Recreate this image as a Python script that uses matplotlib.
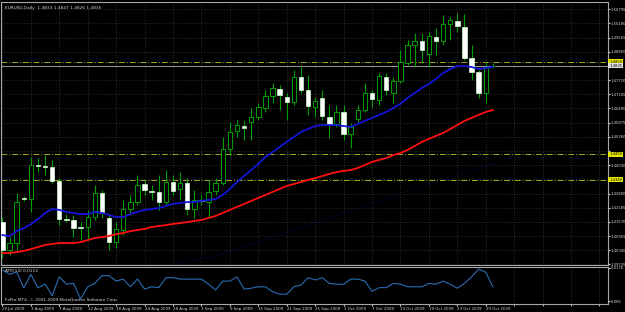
import numpy as np
import matplotlib
matplotlib.use("Agg")
import matplotlib.pyplot as plt

# ============================================================
# EURUSD Daily (MT4) - podatki odčitani s slike
# ============================================================

opens = [1.4156, 1.4035, 1.4065, 1.4261, 1.4256, 1.4404, 1.4400, 1.4396, 1.4334, 1.4170,
         1.4165, 1.4135, 1.4135, 1.4178, 1.4282, 1.4174, 1.4069, 1.4122, 1.4213, 1.4243,
         1.4321, 1.4291, 1.4287, 1.4243, 1.4330, 1.4300, 1.4326, 1.4213, 1.4252, 1.4243,
         1.4291, 1.4326, 1.4473, 1.4551, 1.4573, 1.4590, 1.4612, 1.4651, 1.4703, 1.4734,
         1.4699, 1.4677, 1.4786, 1.4729, 1.4656, 1.4695, 1.4612, 1.4582, 1.4634, 1.4538,
         1.4603, 1.4642, 1.4716, 1.4686, 1.4786, 1.4716, 1.4768, 1.4846, 1.4925, 1.4942,
         1.4886, 1.4959, 1.4942, 1.5016, 1.5029, 1.5003, 1.4868, 1.4807, 1.4716, 1.4833]
highs = [1.4178, 1.4091, 1.4282, 1.4269, 1.4439, 1.4434, 1.4447, 1.4426, 1.4347, 1.4191,
         1.4187, 1.4156, 1.4209, 1.4317, 1.4295, 1.4191, 1.4156, 1.4252, 1.4274, 1.4361,
         1.4339, 1.4317, 1.4361, 1.4382, 1.4361, 1.4374, 1.4347, 1.4295, 1.4274, 1.4339,
         1.4347, 1.4525, 1.4590, 1.4599, 1.4599, 1.4651, 1.4673, 1.4729, 1.4760, 1.4751,
         1.4716, 1.4816, 1.4838, 1.4794, 1.4699, 1.4729, 1.4664, 1.4664, 1.4664, 1.4586,
         1.4664, 1.4760, 1.4729, 1.4803, 1.4803, 1.4786, 1.4903, 1.4946, 1.4977, 1.4977,
         1.4981, 1.4998, 1.5055, 1.5046, 1.5063, 1.5059, 1.4925, 1.4816, 1.4851, 1.4847]
lows = [1.4000, 1.4013, 1.4035, 1.4248, 1.4200, 1.4374, 1.4361, 1.4326, 1.4143, 1.4156,
        1.4091, 1.4078, 1.4078, 1.4165, 1.4174, 1.4035, 1.4044, 1.4100, 1.4187, 1.4230,
        1.4274, 1.4252, 1.4209, 1.4230, 1.4274, 1.4252, 1.4187, 1.4174, 1.4230, 1.4178,
        1.4274, 1.4317, 1.4447, 1.4525, 1.4512, 1.4512, 1.4599, 1.4634, 1.4673, 1.4642,
        1.4599, 1.4664, 1.4716, 1.4621, 1.4612, 1.4599, 1.4521, 1.4569, 1.4512, 1.4478,
        1.4590, 1.4634, 1.4656, 1.4664, 1.4707, 1.4673, 1.4760, 1.4838, 1.4829, 1.4846,
        1.4829, 1.4881, 1.4925, 1.4946, 1.4981, 1.4860, 1.4773, 1.4695, 1.4673, 1.4826]
closes = [1.4035, 1.4065, 1.4243, 1.4256, 1.4404, 1.4400, 1.4396, 1.4334, 1.4170, 1.4165,
          1.4130, 1.4130, 1.4178, 1.4282, 1.4196, 1.4069, 1.4126, 1.4213, 1.4243, 1.4317,
          1.4295, 1.4287, 1.4243, 1.4330, 1.4291, 1.4326, 1.4213, 1.4252, 1.4248, 1.4287,
          1.4326, 1.4473, 1.4547, 1.4577, 1.4564, 1.4612, 1.4656, 1.4703, 1.4738, 1.4707,
          1.4677, 1.4786, 1.4729, 1.4660, 1.4682, 1.4616, 1.4582, 1.4634, 1.4538, 1.4569,
          1.4642, 1.4716, 1.4690, 1.4790, 1.4729, 1.4768, 1.4851, 1.4925, 1.4942, 1.4903,
          1.4964, 1.4942, 1.5016, 1.5033, 1.5007, 1.4868, 1.4807, 1.4716, 1.4829, 1.4835]

ma_fast = [1.4100, 1.4095, 1.4117, 1.4130, 1.4147, 1.4169, 1.4196, 1.4213, 1.4209, 1.4200,
           1.4196, 1.4191, 1.4191, 1.4200, 1.4196, 1.4187, 1.4178, 1.4178, 1.4191, 1.4200,
           1.4209, 1.4213, 1.4217, 1.4226, 1.4235, 1.4239, 1.4243, 1.4243, 1.4248, 1.4252,
           1.4256, 1.4274, 1.4300, 1.4330, 1.4356, 1.4382, 1.4408, 1.4439, 1.4460, 1.4482,
           1.4504, 1.4525, 1.4547, 1.4560, 1.4573, 1.4577, 1.4577, 1.4577, 1.4573, 1.4569,
           1.4582, 1.4595, 1.4608, 1.4621, 1.4634, 1.4651, 1.4669, 1.4695, 1.4716, 1.4738,
           1.4755, 1.4777, 1.4803, 1.4820, 1.4833, 1.4833, 1.4829, 1.4820, 1.4825, 1.4829]
ma_slow = [1.4022, 1.4022, 1.4026, 1.4031, 1.4039, 1.4048, 1.4057, 1.4061, 1.4065, 1.4065,
           1.4065, 1.4069, 1.4078, 1.4087, 1.4091, 1.4096, 1.4104, 1.4109, 1.4117, 1.4122,
           1.4126, 1.4135, 1.4139, 1.4143, 1.4148, 1.4152, 1.4156, 1.4161, 1.4165, 1.4174,
           1.4183, 1.4196, 1.4209, 1.4222, 1.4235, 1.4248, 1.4261, 1.4274, 1.4287, 1.4300,
           1.4313, 1.4321, 1.4330, 1.4339, 1.4347, 1.4356, 1.4365, 1.4373, 1.4378, 1.4382,
           1.4391, 1.4404, 1.4417, 1.4426, 1.4434, 1.4447, 1.4456, 1.4469, 1.4486, 1.4504,
           1.4517, 1.4530, 1.4543, 1.4560, 1.4577, 1.4595, 1.4608, 1.4621, 1.4634, 1.4642]

# redka temno modra pikčasta črta (odčitane točke)
trend_idx = [24, 30, 35, 40, 45, 50, 55, 60, 65, 69]
trend_val = [1.3974, 1.4009, 1.4061, 1.4113, 1.4165, 1.4217, 1.4269, 1.4321, 1.4373, 1.4412]

atr = [0.0169, 0.0154, 0.0162, 0.0106, 0.0154, 0.0106, 0.0120, 0.0079, 0.0145, 0.0119,
       0.0122, 0.0067, 0.0110, 0.0122, 0.0149, 0.0149, 0.0130, 0.0137, 0.0110, 0.0137,
       0.0102, 0.0110, 0.0107, 0.0142, 0.0142, 0.0137, 0.0137, 0.0137, 0.0137, 0.0119,
       0.0099, 0.0130, 0.0130, 0.0145, 0.0102, 0.0105, 0.0110, 0.0110, 0.0093, 0.0084,
       0.0084, 0.0110, 0.0116, 0.0142, 0.0134, 0.0142, 0.0122, 0.0119, 0.0119, 0.0137,
       0.0137, 0.0130, 0.0094, 0.0107, 0.0107, 0.0122, 0.0119, 0.0110, 0.0110, 0.0110,
       0.0122, 0.0119, 0.0130, 0.0119, 0.0105, 0.0122, 0.0145, 0.0172, 0.0161, 0.0110]

date_labels = ["29 Jul 2009", "3 Aug 2009", "7 Aug 2009", "12 Aug 2009", "18 Aug 2009",
               "24 Aug 2009", "28 Aug 2009", "3 Sep 2009", "9 Sep 2009", "15 Sep 2009",
               "21 Sep 2009", "25 Sep 2009", "1 Oct 2009", "7 Oct 2009", "13 Oct 2009",
               "19 Oct 2009", "23 Oct 2009", "29 Oct 2009"]

price_ticks = [1.50795 - k * 0.00615 for k in range(19)]
hlines_yellow = [1.4850, 1.4450, 1.4340]
bid = 1.4835

title = "EURUSD,Daily  1.4833 1.4847 1.4826 1.4835"
atr_title = "ATR(14) 0.0112"
copyright_txt = "FxPro MT4, © 2001-2009 MetaQuotes Software Corp."

# ============================================================
# Graf
# ============================================================

BG = "black"
GRID = "#3a3a3a"
TXT = "#d8d8d8"
EDGE = "#a8a8a8"
CANDLE = "#00a000"
FS = 3.1
FS_R = 2.7

W, H = 625, 312
fig = plt.figure(figsize=(W / 100, H / 100), dpi=100, facecolor=BG)
ax = fig.add_axes([1 / W, 1 - 265 / H, 607 / W, 263 / H], facecolor=BG)
ax2 = fig.add_axes([1 / W, 1 - 304 / H, 607 / W, 37 / H], facecolor=BG)

x = np.arange(len(opens))
o = np.array(opens)
c = np.array(closes)
up = c >= o

ax.vlines(x, lows, highs, color=CANDLE, lw=0.8, zorder=3)
body_h = np.maximum(np.abs(c - o), 0.00008)
ax.bar(x[up], body_h[up], bottom=np.minimum(o, c)[up], width=0.62,
       color="black", edgecolor=CANDLE, linewidth=0.7, zorder=4)
ax.bar(x[~up], body_h[~up], bottom=np.minimum(o, c)[~up], width=0.62,
       color="white", edgecolor="#d0ffd0", linewidth=0.5, zorder=4)

ax.plot(x, ma_fast, color="#1414d8", lw=1.3, zorder=5)
ax.plot(x, ma_slow, color="#ff1010", lw=1.3, zorder=5)
ax.plot(trend_idx, trend_val, color="#101080", lw=0.7, ls=(0, (1, 3)), zorder=2)

# skrij oznake cen, ki jih prekrijejo rumene oznake
hidden = [p for p in price_ticks
          if any(abs(p - lvl) < 0.003 for lvl in hlines_yellow + [bid])]

for lvl in hlines_yellow:
    ax.axhline(lvl, color="#a8a820", lw=0.7, ls=(0, (6, 2, 1, 2)), zorder=2)
    ax.text(1.002, lvl, f"{lvl:.4f}", transform=ax.get_yaxis_transform(),
            fontsize=FS_R, color="black", va="center", ha="left",
            bbox=dict(boxstyle="square,pad=0.2", fc="#e8e800", ec="none"), zorder=10,
            clip_on=False)
ax.axhline(bid, color="#b0b0b0", lw=0.6, zorder=2)
ax.text(1.002, bid, f"{bid:.4f}", transform=ax.get_yaxis_transform(),
        fontsize=FS_R, color="black", va="center", ha="left",
        bbox=dict(boxstyle="square,pad=0.2", fc="#e0e0e0", ec="none"), zorder=10,
        clip_on=False)

xmin, xmax = -0.2, 85.2
ax.set_xlim(xmin, xmax)
ax.set_ylim(1.3970, 1.5111)
ax.set_yticks(price_ticks)
ax.set_yticklabels(["" if p in hidden else f"{p:.5f}" for p in price_ticks])
ax.yaxis.tick_right()
ax.set_xticks(np.arange(0, 86, 4))
ax.tick_params(axis="x", labelbottom=False, length=0)
ax.tick_params(axis="y", colors=TXT, labelsize=FS_R, length=1.2, pad=0.6)
ax.grid(True, color=GRID, ls=(0, (1, 2)), lw=0.6)
ax.text(0.006, 0.985, title, transform=ax.transAxes, fontsize=FS, color=TXT,
        va="top", ha="left")

ax2.plot(x, atr, color="#2a6cb0", lw=0.8)
ax2.set_xlim(xmin, xmax)
ax2.set_ylim(0.00495, 0.01795)
ax2.set_yticks([0.0176, 0.006])
ax2.set_yticklabels(["0.0176", "0.006"])
ax2.yaxis.tick_right()
ax2.set_xticks(np.arange(0, 69, 4))
ax2.set_xticklabels(date_labels, ha="left")
ax2.set_xticks(np.arange(0, 86, 4), minor=True)
ax2.tick_params(axis="x", which="both", colors=TXT, labelsize=2.9, length=1.5, pad=0.8)
ax2.tick_params(axis="y", colors=TXT, labelsize=FS_R, length=1.2, pad=0.6)
ax2.grid(True, which="minor", axis="x", color=GRID, ls=(0, (1, 2)), lw=0.6)
ax2.text(0.006, 0.95, atr_title, transform=ax2.transAxes, fontsize=FS, color=TXT,
         va="top", ha="left")
ax2.text(0.006, 0.05, copyright_txt, transform=ax2.transAxes, fontsize=FS,
         color=TXT, va="bottom", ha="left")

for a in (ax, ax2):
    for s in a.spines.values():
        s.set_color(EDGE)
        s.set_linewidth(0.8)

fig.savefig("out.png", dpi=100, facecolor=BG)
